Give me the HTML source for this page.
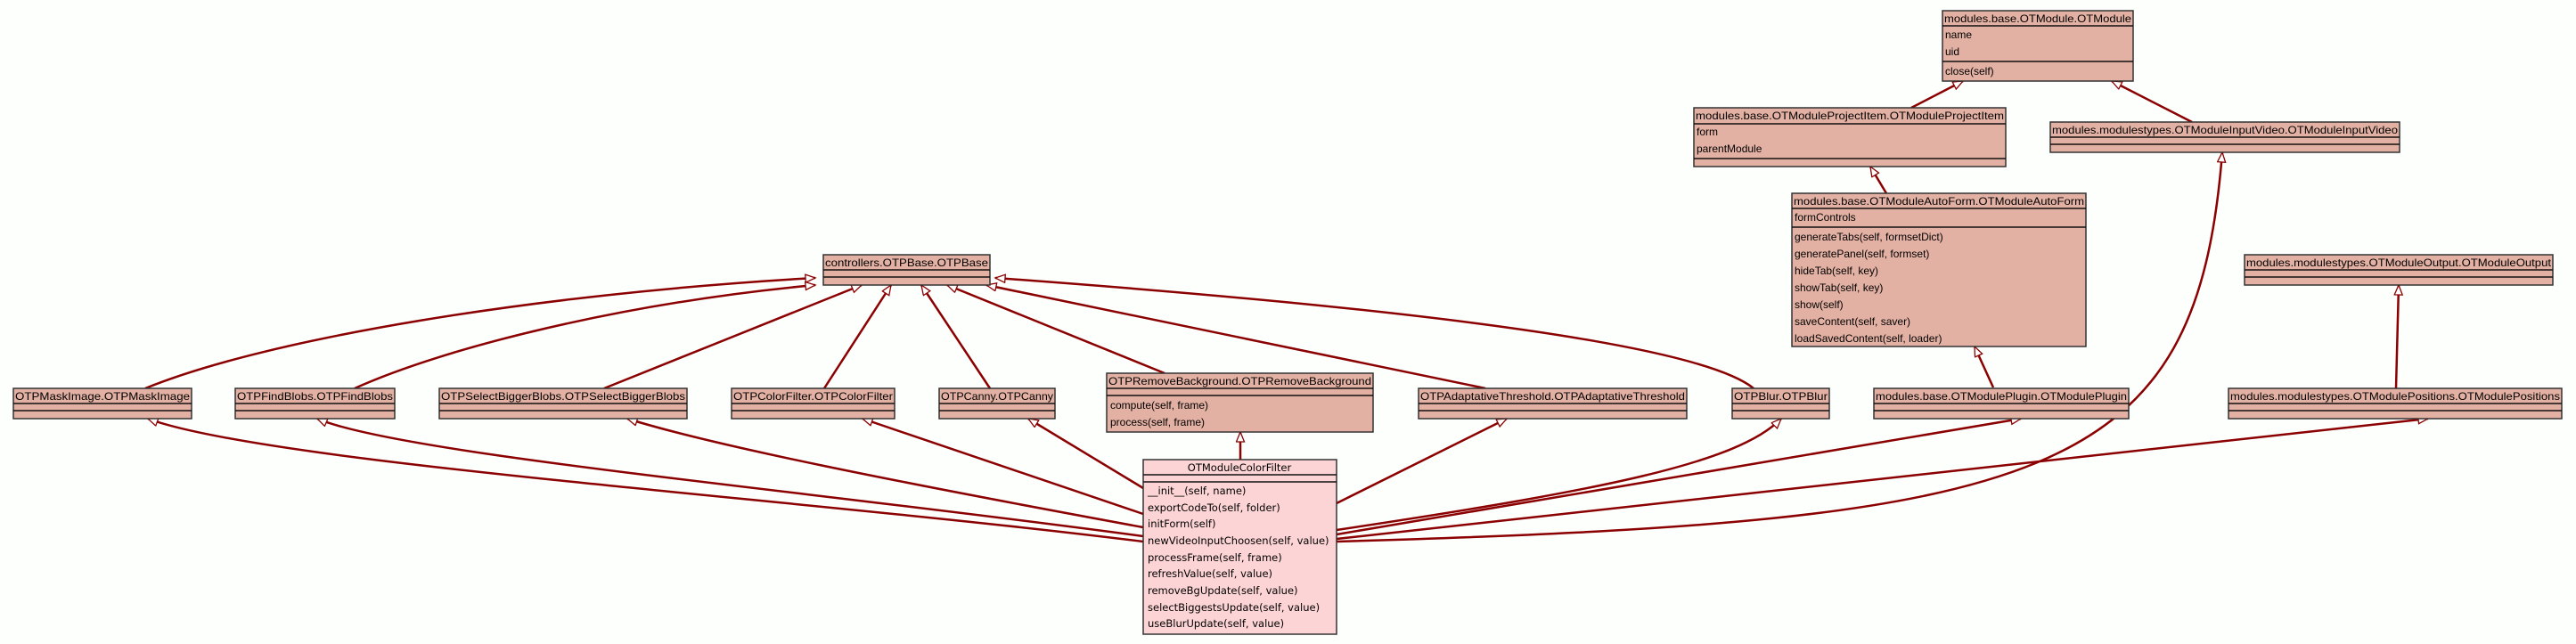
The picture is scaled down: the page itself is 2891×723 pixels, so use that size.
<!DOCTYPE html>
<html><head><meta charset="utf-8"><style>
html,body{margin:0;padding:0;background:#fdfffd;}
svg{display:block;}
text{font-family:"Liberation Sans",Arial,sans-serif;font-size:12px;fill:#000;}
.cf text{font-family:"DejaVu Sans","Liberation Sans",sans-serif;font-size:11.5px;}
.b{fill:#e3b1a3;stroke:#333;stroke-width:1.5;}
.p{fill:#fdd4d5;stroke:#333;stroke-width:1.5;}
.d{stroke:#111;stroke-width:1.5;}
.e{fill:none;stroke:#8b0000;stroke-width:2.5;marker-end:url(#tri);}
</style></head><body>
<svg width="2891" height="723" viewBox="0 0 2891 723" xmlns="http://www.w3.org/2000/svg">
<defs><marker id="tri" markerUnits="userSpaceOnUse" markerWidth="14" markerHeight="12" refX="12" refY="5" orient="auto"><polygon points="1,0.5 12,5 1,9.5" fill="#fff" stroke="#8b0000" stroke-width="1.3"/></marker></defs>

<!-- edges -->
<path class="e" d="M163,436 C300,380 600,330 915,312"/>
<path class="e" d="M398,436 C500,390 700,340 915,320"/>
<path class="e" d="M678,436 L967,320"/>
<path class="e" d="M925,436 L1000,320"/>
<path class="e" d="M1111,436 L1034,320"/>
<path class="e" d="M1307,419 L1063,320"/>
<path class="e" d="M1667,436 L1107,320"/>
<path class="e" d="M1968,436 C1900,380 1500,340 1117,312"/>
<path class="e" d="M2145,121 L2203,91"/>
<path class="e" d="M2460,137 L2370,91"/>
<path class="e" d="M2117,217 L2099,187"/>
<path class="e" d="M2237,435 L2216,389"/>
<path class="e" d="M2689,436 L2692,320"/>
<path class="e" d="M1392,516 L1392,485"/>
<path class="e" d="M1500,608 C2300,585 2465,540 2494,171"/>
<path class="e" d="M1283,608 C900,560 300,520 166,470"/>
<path class="e" d="M1283,602 C900,550 450,510 356,470"/>
<path class="e" d="M1283,592 C1000,540 800,500 704,470"/>
<path class="e" d="M1283,577 L968,470"/>
<path class="e" d="M1283,548 L1154,470"/>
<path class="e" d="M1500,565 L1691,470"/>
<path class="e" d="M1500,595 C1800,550 1950,520 1999,470"/>
<path class="e" d="M1500,600 L2268,470"/>
<path class="e" d="M1500,605 L2725,470"/>

<!-- OTModule -->
<rect class="b" x="2180" y="12" width="214" height="79"/>
<line class="d" x1="2180" y1="29" x2="2394" y2="29"/><line class="d" x1="2180" y1="69" x2="2394" y2="69"/>
<text x="2182" y="25" textLength="210" lengthAdjust="spacingAndGlyphs">modules.base.OTModule.OTModule</text>
<text x="2183" y="43">name</text><text x="2183" y="62">uid</text><text x="2183" y="84">close(self)</text>

<!-- ProjectItem -->
<rect class="b" x="1901" y="121" width="350" height="66"/>
<line class="d" x1="1901" y1="139" x2="2251" y2="139"/><line class="d" x1="1901" y1="178" x2="2251" y2="178"/>
<text x="1903" y="134" textLength="346" lengthAdjust="spacingAndGlyphs">modules.base.OTModuleProjectItem.OTModuleProjectItem</text>
<text x="1904" y="152">form</text><text x="1904" y="171">parentModule</text>

<!-- InputVideo -->
<rect class="b" x="2301" y="137" width="392" height="34"/>
<line class="d" x1="2301" y1="154" x2="2693" y2="154"/><line class="d" x1="2301" y1="162" x2="2693" y2="162"/>
<text x="2303" y="150" textLength="388" lengthAdjust="spacingAndGlyphs">modules.modulestypes.OTModuleInputVideo.OTModuleInputVideo</text>

<!-- AutoForm -->
<rect class="b" x="2011" y="217" width="330" height="172"/>
<line class="d" x1="2011" y1="234" x2="2341" y2="234"/><line class="d" x1="2011" y1="255" x2="2341" y2="255"/>
<text x="2013" y="230" textLength="326" lengthAdjust="spacingAndGlyphs">modules.base.OTModuleAutoForm.OTModuleAutoForm</text>
<text x="2014" y="248">formControls</text>
<text x="2014" y="270">generateTabs(self, formsetDict)</text>
<text x="2014" y="289">generatePanel(self, formset)</text>
<text x="2014" y="308">hideTab(self, key)</text>
<text x="2014" y="327">showTab(self, key)</text>
<text x="2014" y="346">show(self)</text>
<text x="2014" y="365">saveContent(self, saver)</text>
<text x="2014" y="384">loadSavedContent(self, loader)</text>

<!-- Output -->
<rect class="b" x="2519" y="286" width="346" height="34"/>
<line class="d" x1="2519" y1="303" x2="2865" y2="303"/><line class="d" x1="2519" y1="311" x2="2865" y2="311"/>
<text x="2521" y="299" textLength="342" lengthAdjust="spacingAndGlyphs">modules.modulestypes.OTModuleOutput.OTModuleOutput</text>

<!-- OTPBase -->
<rect class="b" x="924" y="286" width="187" height="34"/>
<line class="d" x1="924" y1="303" x2="1111" y2="303"/><line class="d" x1="924" y1="311" x2="1111" y2="311"/>
<text x="926" y="299" textLength="183" lengthAdjust="spacingAndGlyphs">controllers.OTPBase.OTPBase</text>

<!-- bottom row -->
<g>
<rect class="b" x="15" y="436" width="200" height="34"/><line class="d" x1="15" y1="453" x2="215" y2="453"/><line class="d" x1="15" y1="461" x2="215" y2="461"/>
<text x="17" y="449" textLength="196" lengthAdjust="spacingAndGlyphs">OTPMaskImage.OTPMaskImage</text>
<rect class="b" x="264" y="436" width="179" height="34"/><line class="d" x1="264" y1="453" x2="443" y2="453"/><line class="d" x1="264" y1="461" x2="443" y2="461"/>
<text x="266" y="449" textLength="175" lengthAdjust="spacingAndGlyphs">OTPFindBlobs.OTPFindBlobs</text>
<rect class="b" x="493" y="436" width="278" height="34"/><line class="d" x1="493" y1="453" x2="771" y2="453"/><line class="d" x1="493" y1="461" x2="771" y2="461"/>
<text x="495" y="449" textLength="274" lengthAdjust="spacingAndGlyphs">OTPSelectBiggerBlobs.OTPSelectBiggerBlobs</text>
<rect class="b" x="821" y="436" width="183" height="34"/><line class="d" x1="821" y1="453" x2="1004" y2="453"/><line class="d" x1="821" y1="461" x2="1004" y2="461"/>
<text x="823" y="449" textLength="179" lengthAdjust="spacingAndGlyphs">OTPColorFilter.OTPColorFilter</text>
<rect class="b" x="1054" y="436" width="130" height="34"/><line class="d" x1="1054" y1="453" x2="1184" y2="453"/><line class="d" x1="1054" y1="461" x2="1184" y2="461"/>
<text x="1056" y="449" textLength="126" lengthAdjust="spacingAndGlyphs">OTPCanny.OTPCanny</text>
<rect class="b" x="1592" y="436" width="301" height="34"/><line class="d" x1="1592" y1="453" x2="1893" y2="453"/><line class="d" x1="1592" y1="461" x2="1893" y2="461"/>
<text x="1594" y="449" textLength="297" lengthAdjust="spacingAndGlyphs">OTPAdaptativeThreshold.OTPAdaptativeThreshold</text>
<rect class="b" x="1944" y="436" width="109" height="34"/><line class="d" x1="1944" y1="453" x2="2053" y2="453"/><line class="d" x1="1944" y1="461" x2="2053" y2="461"/>
<text x="1946" y="449" textLength="105" lengthAdjust="spacingAndGlyphs">OTPBlur.OTPBlur</text>
<rect class="b" x="2103" y="436" width="286" height="34"/><line class="d" x1="2103" y1="453" x2="2389" y2="453"/><line class="d" x1="2103" y1="461" x2="2389" y2="461"/>
<text x="2105" y="449" textLength="282" lengthAdjust="spacingAndGlyphs">modules.base.OTModulePlugin.OTModulePlugin</text>
<rect class="b" x="2501" y="436" width="374" height="34"/><line class="d" x1="2501" y1="453" x2="2875" y2="453"/><line class="d" x1="2501" y1="461" x2="2875" y2="461"/>
<text x="2503" y="449" textLength="370" lengthAdjust="spacingAndGlyphs">modules.modulestypes.OTModulePositions.OTModulePositions</text>
</g>

<!-- RemoveBackground -->
<rect class="b" x="1242" y="419" width="299" height="66"/>
<line class="d" x1="1242" y1="436" x2="1541" y2="436"/><line class="d" x1="1242" y1="444" x2="1541" y2="444"/>
<text x="1244" y="432" textLength="295" lengthAdjust="spacingAndGlyphs">OTPRemoveBackground.OTPRemoveBackground</text>
<text x="1246" y="459">compute(self, frame)</text>
<text x="1246" y="478">process(self, frame)</text>

<!-- OTModuleColorFilter -->
<g class="cf">
<rect class="p" x="1283" y="516" width="217" height="196"/>
<line class="d" x1="1283" y1="533" x2="1500" y2="533"/><line class="d" x1="1283" y1="541" x2="1500" y2="541"/>
<text x="1391" y="529" text-anchor="middle">OTModuleColorFilter</text>
<text x="1288" y="555">__init__(self, name)</text>
<text x="1288" y="574">exportCodeTo(self, folder)</text>
<text x="1288" y="592">initForm(self)</text>
<text x="1288" y="611">newVideoInputChoosen(self, value)</text>
<text x="1288" y="630">processFrame(self, frame)</text>
<text x="1288" y="648">refreshValue(self, value)</text>
<text x="1288" y="667">removeBgUpdate(self, value)</text>
<text x="1288" y="686">selectBiggestsUpdate(self, value)</text>
<text x="1288" y="704">useBlurUpdate(self, value)</text>
</g>
</svg>
</body></html>
